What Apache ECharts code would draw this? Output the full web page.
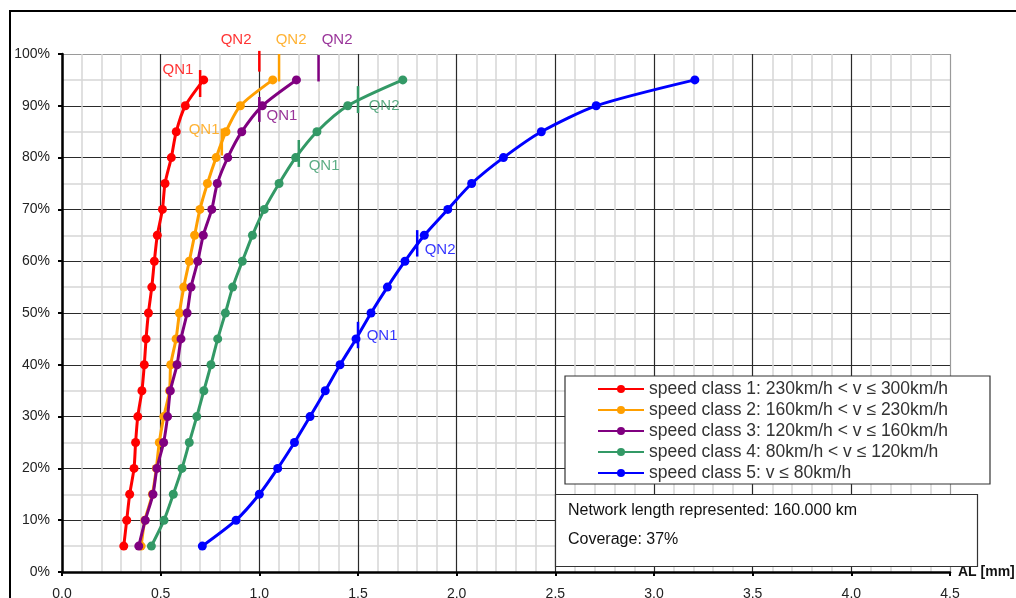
<!DOCTYPE html>
<html>
<head>
<meta charset="utf-8">
<script src="https://cdn.jsdelivr.net/npm/echarts@6/dist/echarts.min.js"></script>
<style>
html,body{margin:0;padding:0;background:#fff;}
#c{width:1016px;height:598px;}
</style>
</head>
<body>
<div id="c"></div>
<script>
// ---- data ----
const percentiles = [5,10,15,20,25,30,35,40,45,50,55,60,65,70,75,80,85,90,95];
const seriesNames = [
  'speed class 1: 230km/h < v ≤ 300km/h',
  'speed class 2: 160km/h < v ≤ 230km/h',
  'speed class 3: 120km/h < v ≤ 160km/h',
  'speed class 4: 80km/h < v ≤ 120km/h',
  'speed class 5: v ≤ 80km/h'
];
const sc1 = [0.313,0.328,0.343,0.365,0.373,0.384,0.405,0.417,0.426,0.438,0.455,0.468,0.483,0.509,0.522,0.554,0.579,0.625,0.718];
const sc2 = [0.401,0.420,0.458,0.478,0.493,0.516,0.545,0.551,0.578,0.595,0.617,0.645,0.672,0.699,0.737,0.781,0.831,0.904,1.068];
const sc3 = [0.389,0.422,0.461,0.481,0.515,0.535,0.549,0.583,0.603,0.634,0.654,0.688,0.716,0.759,0.787,0.840,0.911,1.015,1.188];
const sc4 = [0.453,0.517,0.564,0.608,0.645,0.683,0.719,0.755,0.789,0.828,0.865,0.914,0.965,1.025,1.100,1.184,1.292,1.448,1.727];
const sc5 = [0.711,0.882,1.000,1.093,1.178,1.257,1.334,1.409,1.490,1.566,1.649,1.738,1.836,1.955,2.076,2.237,2.429,2.707,3.207];
const classValues = [sc1, sc2, sc3, sc4, sc5];
// QN threshold marks: class index, label, x value, y range (%), label anchor (x, %)
const qnClass = [0,0,1,1,2,2,3,3,4,4];
const qnLabel = ['QN1','QN2','QN1','QN2','QN1','QN2','QN1','QN2','QN1','QN2'];
const qnX     = [0.70,1.00,0.81,1.10,1.00,1.30,1.20,1.50,1.50,1.80];
const qnY0    = [91.7,96.6,80.4,94.7,86.9,94.7,78.2,88.6,43.2,60.9];
const qnY1    = [96.9,100.6,85.6,100.0,91.7,99.8,83.4,93.8,48.3,66.0];
const qnLabelX = [0.588,0.882,0.720,1.161,1.115,1.394,1.328,1.632,1.622,1.916];
const qnLabelY = [96.9,102.7,85.3,102.7,88.0,102.7,78.4,90.0,45.6,62.2];
const xTickLabels = ['0.0','0.5','1.0','1.5','2.0','2.5','3.0','3.5','4.0','4.5'];
const infoLines = ['Network length represented: 160.000 km', 'Coverage: 37%'];

// ---- styles ----
const colors = ['#ff0000','#ff9f00','#800080','#339966','#0000ff'];
const FONT = 'Liberation Sans, Arial, sans-serif';

const series = [];
classValues.forEach((vals, i) => {
  series.push({
    name: seriesNames[i],
    type: 'line',
    data: vals.map((v, k) => [v, percentiles[k]]),
    smooth: 0.25,
    symbol: 'circle',
    symbolSize: 9,
    color: colors[i],
    lineStyle: {width: 3, color: colors[i]},
    itemStyle: {color: colors[i]},
    z: 5 + i,
    clip: false
  });
});
qnX.forEach((x, j) => {
  const c = colors[qnClass[j]];
  series.push({
    type: 'line',
    data: [[x, qnY0[j]], [x, qnY1[j]]],
    symbol: 'none',
    lineStyle: {width: 2.5, color: c},
    clip: false,
    silent: true,
    z: 12
  });
  series.push({
    type: 'scatter',
    data: [[qnLabelX[j], qnLabelY[j]]],
    symbolSize: 0,
    clip: false,
    silent: true,
    label: {
      show: true, position: 'inside', formatter: qnLabel[j],
      color: c, fontSize: 15, fontFamily: FONT
    },
    z: 12
  });
});

const yMajorColors = Array.from({length: 11}, (_, i) => i === 10 ? '#9a9a9a' : '#2a2a2a');
const xMajorColors = Array.from({length: 10}, (_, i) => i === 9 ? '#9a9a9a' : '#2a2a2a');

const option = {
  backgroundColor: '#fff',
  animation: false,
  grid: {left: 62, top: 54, right: 66, bottom: 26, containLabel: false, outerBoundsMode: 'none'},
  xAxis: {
    type: 'value', min: 0, max: 4.5, interval: 0.5,
    name: 'AL [mm]', nameLocation: 'end', nameGap: 8,
    nameTextStyle: {fontWeight: 'bold', fontSize: 14, color: '#111', fontFamily: FONT, verticalAlign: 'middle'},
    axisLine: {show: true, onZero: false, lineStyle: {color: '#000', width: 2.5}},
    axisTick: {show: true, length: 4, inside: false, lineStyle: {color: '#000', width: 2}},
    axisLabel: {
      margin: 15, fontSize: 14, color: '#222', fontFamily: FONT,
      formatter: (v) => xTickLabels[Math.round(v / 0.5)] || ''
    },
    splitLine: {show: true, lineStyle: {color: xMajorColors, width: 1.2}},
    minorTick: {show: false, splitNumber: 5},
    minorSplitLine: {show: true, lineStyle: {color: '#d6d6d6', width: 1.5}}
  },
  yAxis: {
    type: 'value', min: 0, max: 100, interval: 10,
    axisLine: {show: true, onZero: false, lineStyle: {color: '#000', width: 2.5}},
    axisTick: {show: true, length: 4, inside: false, lineStyle: {color: '#000', width: 2}},
    axisLabel: {margin: 12, fontSize: 14, color: '#222', fontFamily: FONT, formatter: '{value}%'},
    splitLine: {show: true, lineStyle: {color: yMajorColors, width: 1.2}},
    minorTick: {show: false, splitNumber: 2},
    minorSplitLine: {show: true, lineStyle: {color: '#d6d6d6', width: 1.5}}
  },
  legend: {
    data: seriesNames,
    orient: 'vertical',
    left: 565, top: 376,
    padding: [4, 42, 2, 32],
    itemGap: 3.0,
    itemWidth: 46, itemHeight: 10,
    backgroundColor: '#fff',
    borderColor: '#333', borderWidth: 1.2,
    textStyle: {fontSize: 17.5, color: '#333', fontFamily: FONT},
    selectedMode: false,
    z: 20
  },
  graphic: [
    {
      type: 'rect', z: 100, silent: true,
      shape: {x: 10, y: 11, width: 1200, height: 800},
      style: {fill: 'none', stroke: '#000', lineWidth: 2}
    },
    {type: 'rect', z: 90, silent: true, shape: {x: 555.5, y: 494.5, width: 422, height: 72}, style: {fill: '#fff', stroke: '#333', lineWidth: 1.2}},
    {type: 'text', z: 91, silent: true, style: {x: 568, y: 511, text: infoLines[0], fontSize: 16, fontFamily: FONT, fill: '#111', verticalAlign: 'middle'}},
    {type: 'text', z: 91, silent: true, style: {x: 568, y: 540, text: infoLines[1], fontSize: 16, fontFamily: FONT, fill: '#111', verticalAlign: 'middle'}}
  ],
  series: series
};

const chart = echarts.init(document.getElementById('c'), null, {renderer: 'canvas'});
chart.setOption(option);
</script>
</body>
</html>
